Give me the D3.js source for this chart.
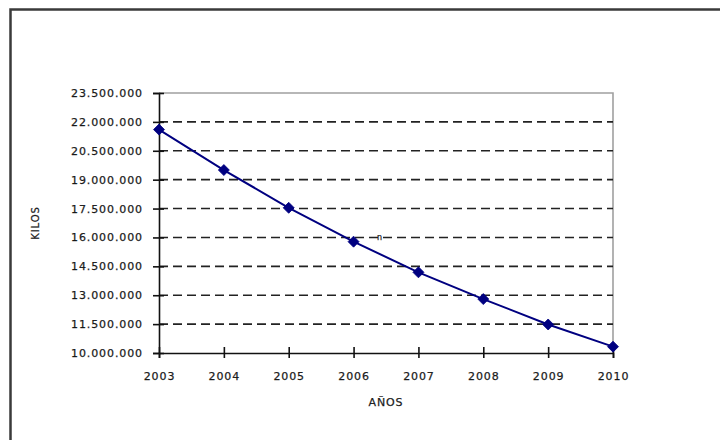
<!DOCTYPE html>
<html><head><meta charset="utf-8">
<script src="https://cdn.jsdelivr.net/npm/d3@7"></script>
<style>
html,body{margin:0;padding:0;background:#fff;}
svg{display:block;}
text{font-family:"DejaVu Sans",Verdana,sans-serif;fill:#111;stroke:#333;stroke-width:0.25px;}
</style></head>
<body>
<svg id="chart" width="720" height="440"></svg>
<script>
const years = [2003, 2004, 2005, 2006, 2007, 2008, 2009, 2010];
const kilos = [21600000, 19500000, 17540000, 15780000, 14190000, 12800000, 11480000, 10330000];
const yTicks = [10000000, 11500000, 13000000, 14500000, 16000000, 17500000, 19000000, 20500000, 22000000, 23500000];
const xTitle = "AÑOS";
const yTitle = "KILOS";

const W = 720, H = 440;
const m = {left: 159, right: 107, top: 93, bottom: 87};
const svg = d3.select("#chart");

// outer frame
svg.append("rect").attr("x", 10.5).attr("y", 9.5).attr("width", 800).attr("height", 600)
  .attr("fill", "none").attr("stroke", "#3a3a3a").attr("stroke-width", 2.5);

const x = d3.scaleLinear().domain([d3.min(years), d3.max(years)]).range([m.left, W - m.right]);
const y = d3.scaleLinear().domain([d3.min(yTicks), d3.max(yTicks)]).range([H - m.bottom, m.top]);

const es = d3.formatLocale({decimal: ",", thousands: ".", grouping: [3], currency: ["", "€"]});
const fmt = es.format(",d");

// plot frame top/right (gray)
svg.append("path")
  .attr("d", `M${x.range()[0]},${y.range()[1]}H${x.range()[1]}V${y.range()[0]}`)
  .attr("fill", "none").attr("stroke", "#a0a0a0").attr("stroke-width", 1.6);

// gridlines
svg.append("g").selectAll("line").data(yTicks.filter(v => v > d3.min(yTicks) && v < d3.max(yTicks)))
  .join("line")
  .attr("x1", x.range()[0]).attr("x2", x.range()[1])
  .attr("y1", d => y(d)).attr("y2", d => y(d))
  .attr("stroke", "#222").attr("stroke-width", 1.6).attr("stroke-dasharray", "9,5");

// y axis
const gy = svg.append("g").attr("transform", `translate(${x.range()[0]},0)`)
  .call(d3.axisLeft(y).tickValues(yTicks).tickFormat(fmt).tickSize(6).tickPadding(10));
gy.select(".domain").attr("stroke", "#111").attr("stroke-width", 1.6);
gy.selectAll(".tick line").attr("x2", 5).attr("x1", -6).attr("stroke", "#111").attr("stroke-width", 1.6);
gy.selectAll(".tick text").attr("font-size", 11).attr("letter-spacing", "0.9px")
  .attr("font-family", "DejaVu Sans").attr("fill", "#111");

// x axis
const gx = svg.append("g").attr("transform", `translate(0,${y.range()[0]})`)
  .call(d3.axisBottom(x).tickValues(years).tickFormat(d3.format("d")).tickSize(5).tickPadding(14));
gx.select(".domain").attr("stroke", "#111").attr("stroke-width", 1.6);
gx.selectAll(".tick line").attr("y1", -6).attr("y2", 5).attr("stroke", "#111").attr("stroke-width", 1.6);
gx.selectAll(".tick text").attr("font-size", 11).attr("letter-spacing", "0.9px")
  .attr("font-family", "DejaVu Sans").attr("fill", "#111");

// line
const data = years.map((yr, i) => ({yr, v: kilos[i]}));
svg.append("path").datum(data)
  .attr("d", d3.line().x(d => x(d.yr)).y(d => y(d.v)))
  .attr("fill", "none").attr("stroke", "#000080").attr("stroke-width", 2);

// diamond markers
svg.append("g").selectAll("path").data(data).join("path")
  .attr("transform", d => `translate(${x(d.yr)},${y(d.v)})`)
  .attr("d", "M0,-5.5L5.5,0L0,5.5L-5.5,0Z")
  .attr("fill", "#000080").attr("stroke", "#000080").attr("stroke-width", 0.8);

// stray glyph on 16M gridline
svg.append("text").attr("x", x(2006.4)).attr("y", y(16000000) + 3)
  .attr("text-anchor", "middle").attr("font-size", 8).attr("fill", "#555").attr("stroke", "none").text("n");

// axis titles
svg.append("text").attr("x", (x.range()[0] + x.range()[1]) / 2).attr("y", 406)
  .attr("text-anchor", "middle").attr("font-size", 11).attr("letter-spacing", "0.9px").text(xTitle);
svg.append("text").attr("transform", `translate(39,${(y.range()[0] + y.range()[1]) / 2}) rotate(-90)`)
  .attr("text-anchor", "middle").attr("font-size", 10).attr("letter-spacing", "0.9px").text(yTitle);
</script>
</body></html>
